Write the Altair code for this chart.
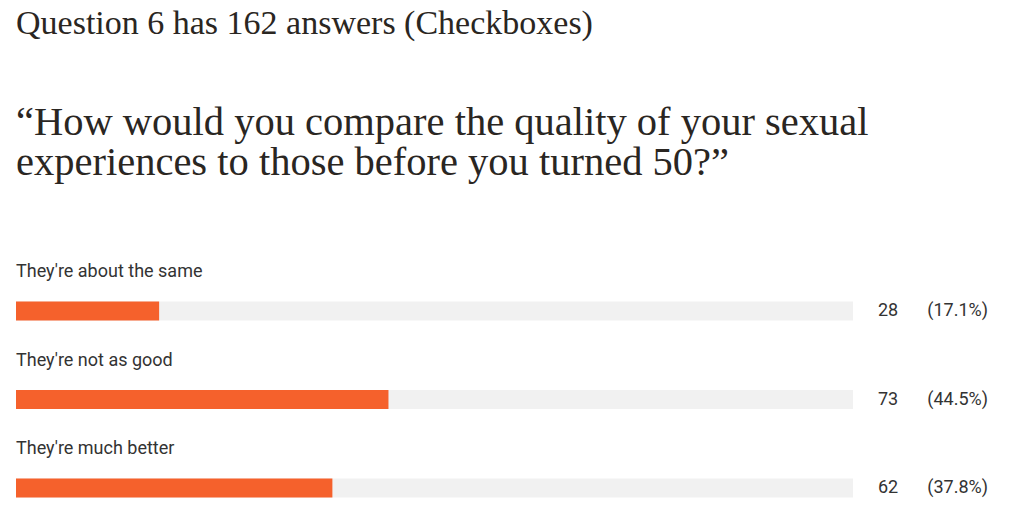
import altair as alt
import pandas as pd

labels = ["They're about the same", "They're not as good", "They're much better"]
counts = [28, 73, 62]
pcts = [17.1, 44.5, 37.8]

title_text = "Question 6 has 162 answers (Checkboxes)"
quote_lines = ["\u201cHow would you compare the quality of your sexual",
               "experiences to those before you turned 50?\u201d"]

df = pd.DataFrame({
    "label": labels,
    "count": counts,
    "pct": pcts,
    "full": [100] * len(labels),
})
df["pct_text"] = ["(" + f"{p:.1f}" + "%)" for p in pcts]
df["count_text"] = [str(c) for c in counts]

ORANGE = "#F5612C"
TRACK = "#F1F1F1"
TEXT = "#333333"

y_enc = alt.Y("label:N", sort=labels, scale=alt.Scale(type="point", padding=0), axis=None)
x_scale = alt.Scale(domain=[0, 100])

base = alt.Chart(df)

track = base.mark_bar(height=19, color=TRACK).encode(
    x=alt.X("full:Q", scale=x_scale, axis=None), y=y_enc)
bar = base.mark_bar(height=19, color=ORANGE).encode(
    x=alt.X("pct:Q", scale=x_scale, axis=None), y=y_enc)
lab = base.mark_text(align="left", baseline="middle", dy=-39, font="Roboto",
                     fontSize=18, color=TEXT).encode(
    x=alt.datum(0), y=y_enc, text="label:N")
cnt = base.mark_text(align="center", baseline="middle", dx=35, font="Roboto",
                     fontSize=18, color=TEXT).encode(
    x=alt.datum(100), y=y_enc, text="count_text:N")
pct = base.mark_text(align="right", baseline="middle", dx=135, font="Roboto",
                     fontSize=18, color=TEXT).encode(
    x=alt.datum(100), y=y_enc, text="pct_text:N")

chart = alt.layer(track, bar, lab, cnt, pct).properties(
    width=837, height=177,
    autosize=alt.AutoSizeParams(type="none"),
    padding={"left": 8, "top": 303, "right": 169, "bottom": 30},
    title=alt.TitleParams(
        text=title_text, subtitle=quote_lines, anchor="start",
        font="Liberation Serif", fontSize=34, fontWeight="normal", color="#2A2622",
        subtitleFont="Liberation Serif", subtitleFontSize=40.5, subtitleColor="#2A2622",
        subtitleLineHeight=40, subtitlePadding=62, offset=80,
    ),
).configure_view(stroke=None)

chart.save("out.html", embed_options={"renderer": "svg", "actions": False})
